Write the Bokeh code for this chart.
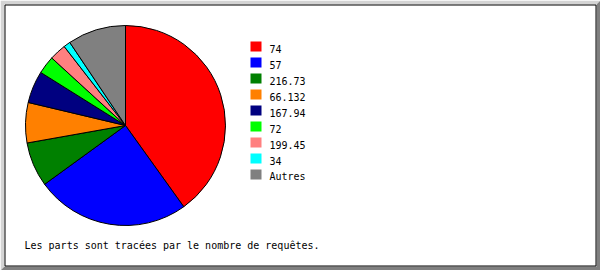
import math
from bokeh.plotting import figure
from bokeh.models import Range1d, ColumnDataSource
from bokeh.core.properties import value
from bokeh.embed import file_html
from bokeh.resources import INLINE

# Parts du camembert (nombre de requêtes par hôte)
labels = ["74", "57", "216.73", "66.132", "167.94", "72", "199.45", "34", "Autres"]
requests = [401, 249, 72, 65, 52, 29, 27, 11, 94]
colors = ["#ff0000", "#0000ff", "#008000", "#ff8000", "#000080",
          "#00ff00", "#ff8080", "#00ffff", "#808080"]
caption = "Les parts sont tracées par le nombre de requêtes."

W, H = 600, 270
FONT = value("DejaVu Sans Mono")
SIZE = value("10px")


def sy(y):
    # screen row -> data y (y axis points up)
    return H - y


p = figure(width=W, height=H, output_backend="svg", toolbar_location=None,
           x_range=Range1d(0, W), y_range=Range1d(0, H),
           x_axis_location=None, y_axis_location=None,
           min_border=0, background_fill_color="white",
           border_fill_color="white", outline_line_color=None)
p.grid.visible = False

# bevelled frame
p.patch([0, W, W - 4, 4, 4, 0], [sy(0), sy(0), sy(4), sy(4), sy(H - 4), sy(H)],
        fill_color="#d4d4d4", line_color=None)
p.patch([W, W, 0, 4, W - 4, W - 4], [sy(0), sy(H), sy(H), sy(H - 4), sy(H - 4), sy(4)],
        fill_color="#808080", line_color=None)
p.quad(left=4.5, right=W - 4.5, top=sy(4.5), bottom=sy(H - 4.5),
       fill_color="white", line_color="black", line_width=1)

# pie, clockwise from twelve o'clock
total = float(sum(requests))
starts, ends = [], []
acc = 0.0
for v in requests:
    starts.append(math.pi / 2 - 2 * math.pi * acc / total)
    acc += v
    ends.append(math.pi / 2 - 2 * math.pi * acc / total)

pie = ColumnDataSource(dict(start=starts, end=ends, color=colors, label=labels))
p.wedge(x=125, y=sy(125), radius=100, start_angle="start", end_angle="end",
        direction="clock", fill_color="color", line_color="black",
        line_width=1, source=pie)

# legend
n = len(labels)
tops = [41 + 16 * i for i in range(n)]
leg = ColumnDataSource(dict(
    left=[250] * n, right=[261] * n,
    top=[sy(t) for t in tops], bottom=[sy(t + 10) for t in tops],
    tx=[269] * n, ty=[sy(t + 7) for t in tops],
    color=colors, label=labels))
p.quad(left="left", right="right", top="top", bottom="bottom",
       fill_color="color", line_color=None, source=leg)
p.text(x="tx", y="ty", text="label", source=leg, text_font=FONT,
       text_font_size=SIZE, text_color="black", text_baseline="alphabetic")

p.text(x=[24], y=[sy(245)], text=[caption], text_font=FONT,
       text_font_size=SIZE, text_color="black", text_baseline="alphabetic")

open("out.html", "w").write(file_html(p, INLINE))
